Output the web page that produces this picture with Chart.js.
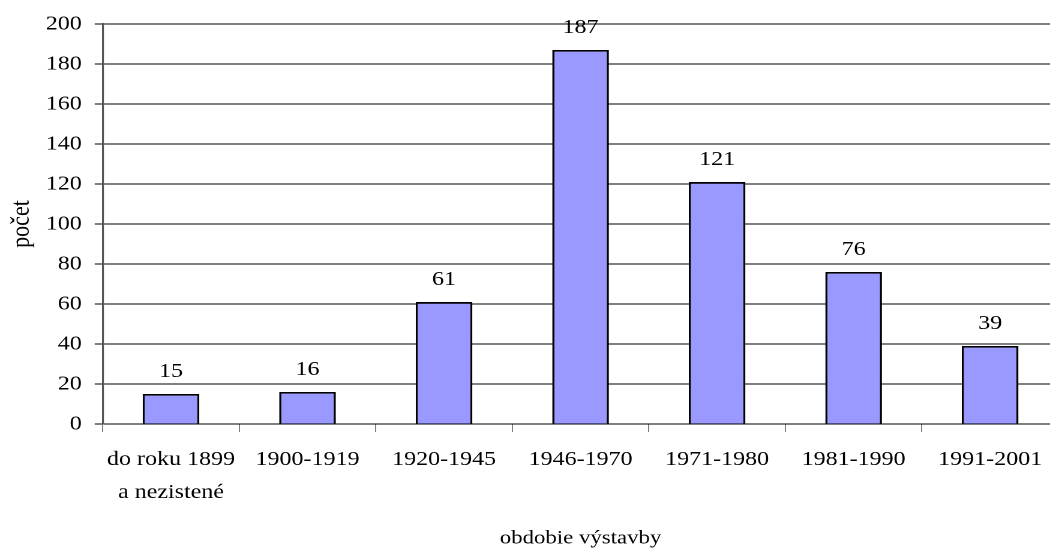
<!DOCTYPE html>
<html>
<head>
<meta charset="utf-8">
<script src="https://cdn.jsdelivr.net/npm/chart.js@4/dist/chart.umd.min.js"></script>
<style>
  html, body { margin: 0; padding: 0; background: #fff; overflow: hidden; width: 1050px; height: 549px; }
  #wrap { position: absolute; left: 0; top: 0; width: 882px; height: 549px; transform: scaleX(1.2); transform-origin: 0 0; }
</style>
</head>
<body>
<div id="wrap"><canvas id="c"></canvas></div>
<script>
// ---- data ----
const categories = [['do roku 1899', 'a nezistené'], '1900-1919', '1920-1945', '1946-1970', '1971-1980', '1981-1990', '1991-2001'];
const counts = [15, 16, 61, 187, 121, 76, 39];
const yMin = 0;
const yMax = 200;
const yStep = 20;
const xTitle = 'obdobie výstavby';
const yTitle = 'počet';

const FONT = '"Liberation Serif", "Times New Roman", serif';

const valueLabels = {
  id: 'valueLabels',
  afterDatasetsDraw(chart) {
    const ctx = chart.ctx;
    const meta = chart.getDatasetMeta(0);
    ctx.save();
    ctx.font = '20px ' + FONT;
    ctx.fillStyle = '#000';
    ctx.textAlign = 'center';
    ctx.textBaseline = 'alphabetic';
    meta.data.forEach((bar, i) => {
      ctx.fillText(String(counts[i]), bar.x, bar.y - 17);
    });
    ctx.restore();
  }
};

new Chart(document.getElementById('c'), {
  type: 'bar',
  data: {
    labels: categories,
    datasets: [{
      data: counts,
      backgroundColor: '#9999FF',
      borderColor: '#000',
      borderWidth: 1.8,
      barPercentage: 0.415,
      categoryPercentage: 1
    }]
  },
  options: {
    responsive: true,
    maintainAspectRatio: false,
    devicePixelRatio: 2,
    animation: false,
    layout: { padding: { top: 24, left: 0, right: 0, bottom: 0 } },
    plugins: {
      legend: { display: false },
      tooltip: { enabled: false }
    },
    scales: {
      x: {
        offset: true,
        grid: {
          display: true,
          drawOnChartArea: false,
          drawTicks: true,
          tickLength: 8,
          color: '#808080',
          lineWidth: 1,
          offset: true
        },
        border: { display: true, color: '#000', width: 1 },
        ticks: {
          color: '#000',
          font: { family: FONT, size: 20, lineHeight: 1.65 },
          padding: 11,
          maxRotation: 0,
          autoSkip: false
        },
        title: {
          display: true,
          text: xTitle,
          color: '#000',
          font: { family: FONT, size: 19, lineHeight: 1 },
          padding: { top: 0, bottom: 1 }
        },
        afterFit(s) { s.height = 125; }
      },
      y: {
        min: yMin,
        max: yMax,
        grid: {
          display: true,
          drawOnChartArea: true,
          drawTicks: true,
          tickLength: 6.7,
          color: '#000',
          lineWidth: 1
        },
        border: { display: true, color: '#555', width: 1.6 },
        ticks: {
          stepSize: yStep,
          color: '#000',
          font: { family: FONT, size: 20 },
          padding: 10.8
        },
        title: {
          display: true,
          text: yTitle,
          color: '#000',
          font: { family: FONT, size: 22, lineHeight: 1.2 },
          padding: { top: 5, bottom: 0 }
        },
        afterFit(s) { s.width = 85.6; }
      }
    }
  },
  plugins: [valueLabels]
});
</script>
</body>
</html>
